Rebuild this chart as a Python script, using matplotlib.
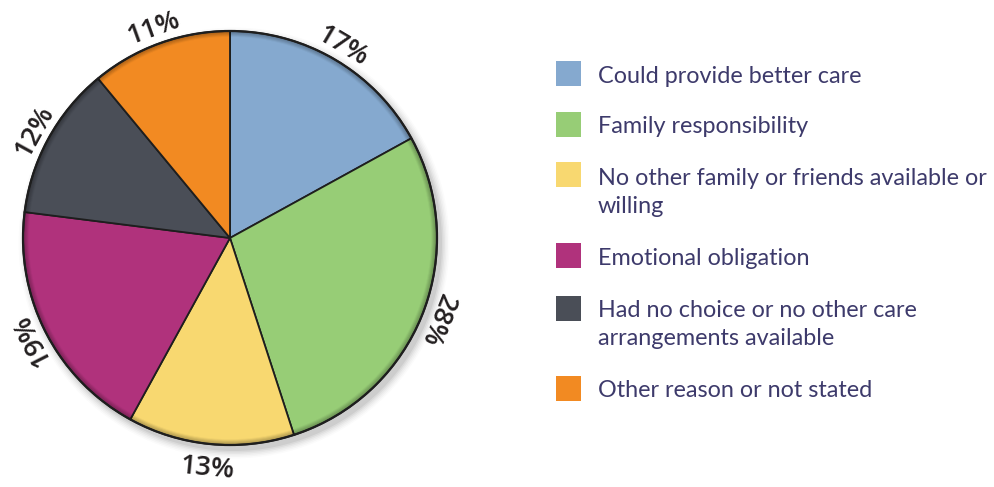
import matplotlib
matplotlib.use("Agg")
import matplotlib.pyplot as plt
from matplotlib.patches import Rectangle, Circle
from matplotlib import font_manager
import numpy as np
import os

categories = [
    "Could provide better care",
    "Family responsibility",
    "No other family or friends available or\nwilling",
    "Emotional obligation",
    "Had no choice or no other care\narrangements available",
    "Other reason or not stated",
]
values = [17, 28, 13, 19, 12, 11]
pct_labels = ["17%", "28%", "13%", "19%", "12%", "11%"]
colors = ["#85a9cf", "#97cd76", "#f8d870", "#b0327c", "#4a4e57", "#f28a22"]


def pick_font():
    files = font_manager.findSystemFonts()
    prefs = ["opensans-semibold", "notosans-semibold", "lato-bold",
             "opensans-bold", "notosans-bold", "roboto-bold"]
    for p in prefs:
        for f in files:
            b = os.path.basename(f).lower().replace("_", "-")
            if b.startswith(p) and "italic" not in b and "condensed" not in b:
                return font_manager.FontProperties(fname=f)
    return font_manager.FontProperties(family="DejaVu Sans", weight="bold")


W, H = 994, 487
fig = plt.figure(figsize=(W / 100, H / 100), dpi=100)
ax = fig.add_axes([0, 0, 1, 1])

cx, cy, R = 230, H - 238, 207

# soft drop shadow
for i, a in enumerate(np.linspace(0.05, 0.015, 6)):
    ax.add_patch(Circle((cx + 4, cy - 5), R + 1 + i * 1.5, color="#000000",
                        alpha=a, lw=0, zorder=0))

wedges, _ = ax.pie(values, colors=colors, startangle=90, counterclock=False,
                   radius=R, center=(cx, cy), frame=True,
                   wedgeprops=dict(edgecolor="#1e1e1e", linewidth=1.3))
for w in wedges:
    w.set_zorder(2)

# subtle bevel: dark inner rim
for i, a in enumerate(np.linspace(0.18, 0.0, 6)):
    ax.add_patch(Circle((cx, cy), R - 1 - i, fill=False, ec="#000000",
                        alpha=a, lw=1.2, zorder=3))
ax.add_patch(Circle((cx, cy), R, fill=False, ec="#1e1e1e", lw=1.6, zorder=4))

fp = pick_font()
fp.set_size(19.5)
for w, lab in zip(wedges, pct_labels):
    mid = 0.5 * (w.theta1 + w.theta2)
    rad = np.deg2rad(mid)
    rot = mid - 90
    rot = (rot + 180) % 360 - 180
    rr = R * 1.075
    if abs(rot) > 150:
        rot = (rot + 180 + 180) % 360 - 180
        rr = R * 1.12
    ax.text(cx + rr * np.cos(rad), cy + rr * np.sin(rad), lab, rotation=rot,
            rotation_mode="anchor", ha="center", va="center", zorder=5,
            fontproperties=fp, color="#231f20")

# legend
sq = 25
sq_x = 556
sq_tops = [61, 112, 162, 243, 296, 376]
text_x = 598
baselines = [83, 133, 185, 265, 317, 397]
line_gap = 28
leg_font = dict(family=["Lato", "DejaVu Sans"], fontsize=16.8,
                color="#3d3a6b")
for c, lab, top, base in zip(colors, categories, sq_tops, baselines):
    ax.add_patch(Rectangle((sq_x, H - top - sq), sq, sq, color=c, lw=0))
    for j, line in enumerate(lab.split("\n")):
        ax.text(text_x, H - base - j * line_gap, line, ha="left",
                va="baseline", **leg_font)

ax.set_xlim(0, W)
ax.set_ylim(0, H)
ax.set_aspect("equal")
ax.axis("off")
fig.savefig("out.png", dpi=100, facecolor="white")
